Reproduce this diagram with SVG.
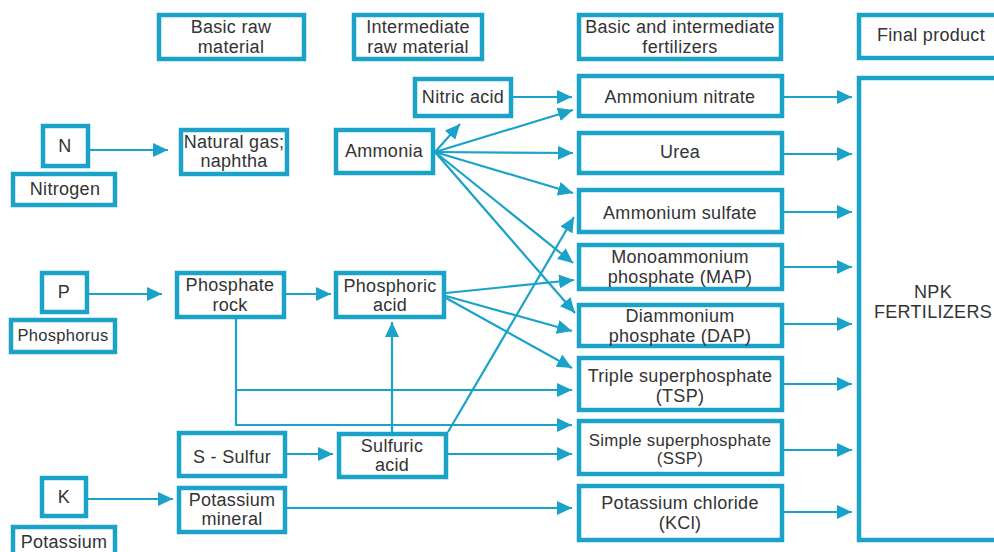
<svg xmlns="http://www.w3.org/2000/svg" width="994" height="552" viewBox="0 0 994 552">
<defs>
<marker id="ah" markerUnits="userSpaceOnUse" markerWidth="16" markerHeight="14" viewBox="0 0 16 14" refX="15" refY="7" orient="auto">
<path d="M0,0 L15,7 L0,14 Z" fill="#1ba2c9"/>
</marker>
</defs>
<style>
rect{fill:#fff;stroke:#1ba2c9;stroke-width:4.5}
text{font-family:"Liberation Sans",Arial,Helvetica,sans-serif;font-size:18px;fill:#333;text-anchor:middle;letter-spacing:0.3px}
.s{font-size:16.8px}
.p{font-size:16.5px}
#connectors path{fill:none;stroke:#1ba2c9;stroke-width:2.2;marker-end:url(#ah)}
</style>
<rect x="0" y="0" width="994" height="552" style="fill:#fff;stroke:none"/>
<g id="connectors">
<path d="M90,150 L168,150"/>
<path d="M89,294 L162,294"/>
<path d="M88,499 L173,499"/>
<path d="M286,294 L331,294"/>
<path d="M287,454 L333,454"/>
<path d="M392,432 L392,322"/>
<path d="M448,432 L574,217"/>
<path d="M448,454 L572,454"/>
<path d="M287,508 L572,508"/>
<path d="M236,319 L236,425 L572,425"/>
<path d="M236,390 L572,390"/>
<path d="M513,97 L572,97"/>
<path d="M435,152 L460,124"/>
<path d="M435,152 L573,110"/>
<path d="M435,152 L573,153"/>
<path d="M435,152 L573,193"/>
<path d="M435,152 L573,263"/>
<path d="M435,152 L575,313"/>
<path d="M446,293 L574,280"/>
<path d="M446,296 L572,331"/>
<path d="M446,298 L572,368"/>
<path d="M784,97 L852,97"/>
<path d="M784,154 L852,154"/>
<path d="M784,212 L852,212"/>
<path d="M784,267 L852,267"/>
<path d="M784,324 L852,324"/>
<path d="M784,384 L852,384"/>
<path d="M784,450 L852,450"/>
<path d="M784,512 L852,512"/>
</g>
<g id="hdr1"><rect x="159" y="15" width="145" height="44"/><text x="231" y="33">Basic raw</text><text x="231" y="53">material</text></g>
<g id="hdr2"><rect x="354" y="15" width="128" height="44"/><text x="418" y="33">Intermediate</text><text x="418" y="53">raw material</text></g>
<g id="hdr3"><rect x="579" y="15" width="202" height="44"/><text x="680" y="33">Basic and intermediate</text><text x="680" y="53">fertilizers</text></g>
<g id="hdr4"><rect x="859" y="15" width="150" height="43"/><text x="931" y="41">Final product</text></g>
<g id="n"><rect x="43" y="126" width="45" height="40"/><text x="65" y="152">N</text></g>
<g id="nitrogen"><rect x="13" y="174" width="102" height="31"/><text x="65" y="195">Nitrogen</text></g>
<g id="natgas"><rect x="181" y="130" width="106" height="44"/><text x="234" y="148">Natural gas;</text><text x="234" y="167">naphtha</text></g>
<g id="nitric"><rect x="415" y="79" width="96" height="37"/><text x="463" y="103">Nitric acid</text></g>
<g id="ammonia"><rect x="336" y="130" width="97" height="43"/><text x="384" y="157">Ammonia</text></g>
<g id="an"><rect x="579" y="76" width="203" height="40"/><text x="680" y="103">Ammonium nitrate</text></g>
<g id="urea"><rect x="579" y="133" width="203" height="40"/><text x="680" y="158">Urea</text></g>
<g id="as"><rect x="579" y="190" width="203" height="42"/><text x="680" y="219">Ammonium sulfate</text></g>
<g id="map"><rect x="579" y="245" width="203" height="44"/><text x="680" y="263">Monoammonium</text><text x="680" y="283">phosphate (MAP)</text></g>
<g id="dap"><rect x="579" y="305" width="203" height="41"/><text x="680" y="322">Diammonium</text><text x="680" y="342">phosphate (DAP)</text></g>
<g id="tsp"><rect x="579" y="358" width="203" height="52"/><text x="680" y="382">Triple superphosphate</text><text x="680" y="402">(TSP)</text></g>
<g id="ssp"><rect x="579" y="421" width="203" height="53"/><text class="s" x="680" y="446">Simple superphosphate</text><text class="s" x="680" y="464">(SSP)</text></g>
<g id="kcl"><rect x="579" y="486" width="203" height="54"/><text x="680" y="509">Potassium chloride</text><text x="680" y="529">(KCl)</text></g>
<g id="npk"><rect x="859" y="78" width="150" height="462"/><text x="933" y="298">NPK</text><text x="933" y="318">FERTILIZERS</text></g>
<g id="p"><rect x="42" y="273" width="45" height="39"/><text x="64" y="298">P</text></g>
<g id="phosphorus"><rect x="11" y="320" width="104" height="32"/><text class="p" x="63" y="341">Phosphorus</text></g>
<g id="rock"><rect x="177" y="273" width="107" height="44"/><text x="230" y="291">Phosphate</text><text x="230" y="311">rock</text></g>
<g id="phosacid"><rect x="336" y="273" width="108" height="44"/><text x="390" y="292">Phosphoric</text><text x="390" y="311">acid</text></g>
<g id="sulfur"><rect x="179" y="433" width="106" height="43"/><text x="232" y="463">S - Sulfur</text></g>
<g id="sulfacid"><rect x="339" y="434" width="107" height="43"/><text x="392" y="452">Sulfuric</text><text x="392" y="471">acid</text></g>
<g id="k"><rect x="42" y="478" width="44" height="38"/><text x="64" y="503">K</text></g>
<g id="potmineral"><rect x="179" y="488" width="106" height="44"/><text x="232" y="506">Potassium</text><text x="232" y="525">mineral</text></g>
<g id="potassium"><rect x="13" y="527" width="102" height="35"/><text x="64" y="548">Potassium</text></g>
</svg>
